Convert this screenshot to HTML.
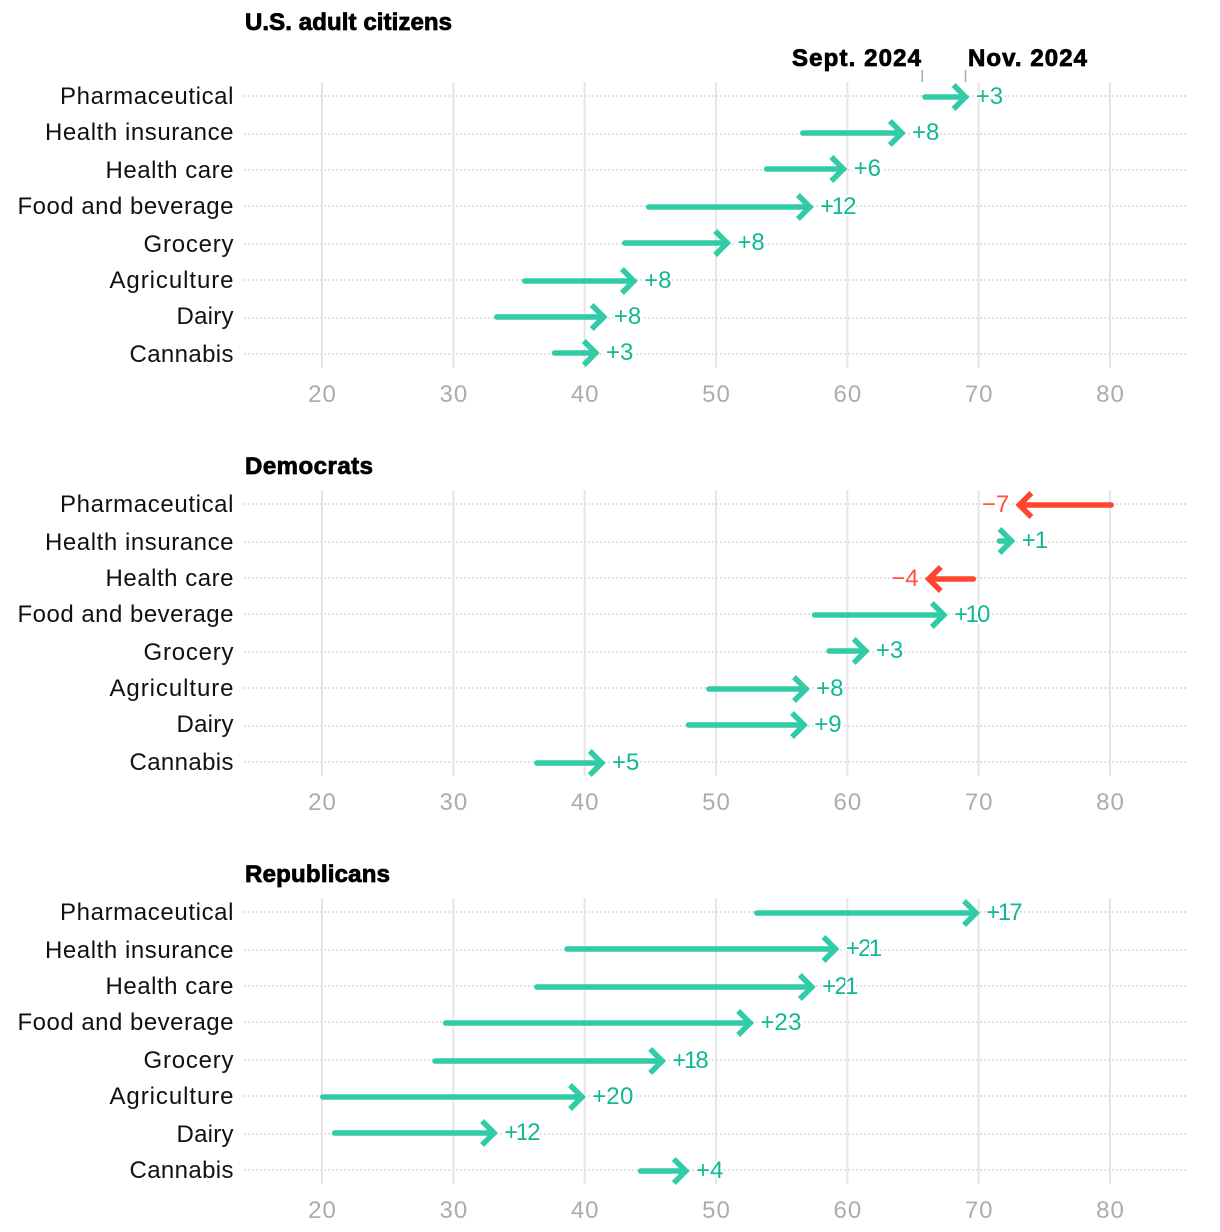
<!DOCTYPE html>
<html>
<head>
<meta charset="utf-8">
<title>Favorability by industry</title>
<style>
html,body{margin:0;padding:0;background:#fff;}
svg{display:block;}
text{font-family:"Liberation Sans",sans-serif;}
</style>
</head>
<body>
<svg id="chart" xmlns="http://www.w3.org/2000/svg" width="1220" height="1232" viewBox="0 0 1220 1232"></svg>
<script>
const categories = ["Pharmaceutical","Health insurance","Health care","Food and beverage","Grocery","Agriculture","Dairy","Cannabis"];
const panelTitles = ["U.S. adult citizens","Democrats","Republicans"];
const xTicks = [20,30,40,50,60,70,80];
const seriesLabels = ["Sept. 2024","Nov. 2024"];

const septAdults = [65.7,56.4,53.65,44.67,42.84,35.23,33.1,37.5];
const novAdults  = [69.0,64.15,59.7,57.15,50.85,43.75,41.45,40.85];
const deltaAdults = ["+3","+8","+6","+12","+8","+8","+8","+3"];

const septDems = [80.3,71.37,69.8,57.3,58.4,49.25,47.7,36.15];
const novDems  = [73.1,72.5,66.2,67.35,61.4,56.85,56.7,41.3];
const deltaDems = ["\u22127","+1","\u22124","+10","+3","+8","+9","+5"];

const septReps = [52.9,38.45,36.15,29.2,28.4,19.85,20.75,44.05];
const novReps  = [69.8,59.1,57.3,52.6,45.9,39.8,33.1,47.7];
const deltaReps = ["+17","+21","+21","+23","+18","+20","+12","+4"];

const NS = "http://www.w3.org/2000/svg";
const svg = document.getElementById("chart");

const PANEL_STEP = 408, ROW_STEP = 36.8;
const ARROW_NUDGE = [0, 0.4, 0.6];
const LABEL_NUDGE = [0, 0.25, 0.45];
const TITLE_Y = [30, 474, 882];
const TITLE_W = [207, 128, 145];
const LABEL_FIT = [173.5, 188.5, 128, 216, 90, 124, 57, 104];
const GREEN = "#31cba7", RED = "#ff452f";
const GREEN_TEXT = "#10b894", RED_TEXT = "#ff5040";
const ARROW_W = 5.5;

function x(v){ return 322 + (v - 20) * 788 / 60; }
function even(v){ return 2 * Math.round(v / 2); }
function dotY(p,i){ return p * PANEL_STEP + even(96.4 + i * ROW_STEP); }
function arrowY(p,i){ return p * PANEL_STEP + even(95.2 + ARROW_NUDGE[p] + i * ROW_STEP) + 1; }
function labelY(p,i){ return p * PANEL_STEP + even(104 + LABEL_NUDGE[p] + i * 36.78); }

function glyphNudge(s){
  if (s.length === 2) return s[1] === "1" ? "0 -1" : "0 0";
  const out = [0, 0, 0.4];
  if (s[1] === "1") { out[1] = -2.4; out[2] = -2; }
  else if (s[2] === "1") { out[1] = -1.6; out[2] = -2.8; }
  return out.join(" ");
}

function make(tag, attrs, parent, txt){
  const el = document.createElementNS(NS, tag);
  for (const k in attrs) el.setAttribute(k, attrs[k]);
  if (txt !== undefined) el.textContent = txt;
  parent.appendChild(el);
  return el;
}

function drawPanel(p, title, sept, nov, delta){
  const g = make("g", {}, svg);
  
  
  const off = p * PANEL_STEP;

  const t = make("text", {x:245, y:TITLE_Y[p], "font-size":24, "font-weight":700, fill:"#000", stroke:"#000", "stroke-width":0.8, textLength:TITLE_W[p], lengthAdjust:"spacing"}, g, title);
  
  

  xTicks.forEach(function(v){
    const line = make("line", {x1:x(v), x2:x(v), y1:82 + off, y2:368 + off, stroke:"#e6e6e6", "stroke-width":2}, g);
    
    
    const lab = make("text", {x:x(v) + 0.5, y:402 + off, "font-size":24, fill:"#acacac", "text-anchor":"middle", "letter-spacing":1}, g, String(v));
    
    
  });

  categories.forEach(function(c,i){
    const d = make("line", {x1:244, x2:1187, y1:dotY(p,i), y2:dotY(p,i), stroke:"#e2e2e2", "stroke-width":2, "stroke-dasharray":"2 2"}, g);
    
    
    const l = make("text", {x:233.5 - LABEL_FIT[i], y:labelY(p,i), "font-size":24, fill:"#111", textLength:LABEL_FIT[i], lengthAdjust:"spacing"}, g, c);
    
    
  });

  categories.forEach(function(c,i){
    const up = nov[i] >= sept[i];
    const dir = up ? 1 : -1;
    const y = arrowY(p,i);
    const col = up ? GREEN : RED;
    const vx = x(nov[i]);
    const sx = x(sept[i]) + dir * ARROW_W / 2;
    const shaft = make("line", {x1:sx, x2:vx, y1:y, y2:y, stroke:col, "stroke-width":ARROW_W, "stroke-linecap":"round"}, g);
    
    
    const hx = vx - dir * 12;
    const head = make("polyline", {points:hx + "," + (y - 12) + " " + vx + "," + y + " " + hx + "," + (y + 12), fill:"none", stroke:col, "stroke-width":ARROW_W, "stroke-linejoin":"miter", "stroke-linecap":"butt"}, g);
    
    
    const tx = vx + dir * 10.2;
    const val = make("text", {x:tx, y:y + 7, dx:up ? glyphNudge(delta[i]) : "0 0", "font-size":24, fill:up ? GREEN_TEXT : RED_TEXT, "text-anchor":up ? "start" : "end", stroke:"#fff", "stroke-width":4, "paint-order":"stroke"}, g, delta[i]);
    
    
  });
}

drawPanel(0, panelTitles[0], septAdults, novAdults, deltaAdults);
drawPanel(1, panelTitles[1], septDems, novDems, deltaDems);
drawPanel(2, panelTitles[2], septReps, novReps, deltaReps);

const s = make("text", {x:792, y:66, "font-size":24, "font-weight":700, fill:"#000", stroke:"#000", "stroke-width":0.8, textLength:129, lengthAdjust:"spacing"}, svg, seriesLabels[0]);


const n = make("text", {x:968, y:66, "font-size":24, "font-weight":700, fill:"#000", stroke:"#000", "stroke-width":0.8, textLength:119, lengthAdjust:"spacing"}, svg, seriesLabels[1]);


const st = make("line", {x1:x(septAdults[0]), x2:x(septAdults[0]), y1:70, y2:82, stroke:"#aaa", "stroke-width":1.5}, svg);


const nt = make("line", {x1:x(novAdults[0]), x2:x(novAdults[0]), y1:70, y2:82, stroke:"#aaa", "stroke-width":1.5}, svg);


</script>
</body>
</html>
